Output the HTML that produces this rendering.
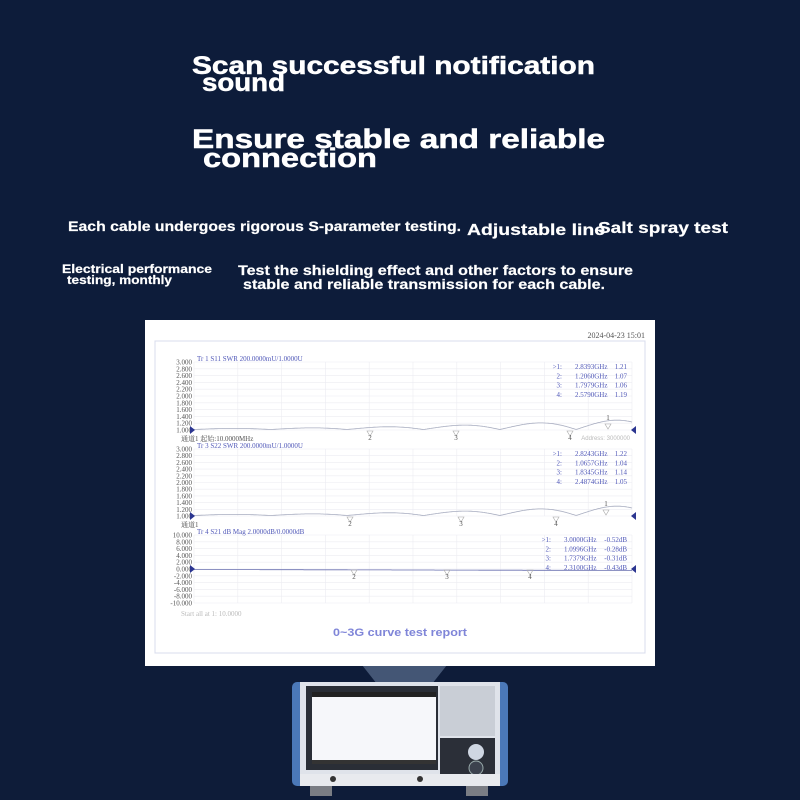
<!DOCTYPE html>
<html><head><meta charset="utf-8"><style>
html,body{margin:0;padding:0;background:#0e1c39;}
svg{display:block}
</style></head><body>
<svg id="s" width="800" height="800" viewBox="0 0 800 800" xmlns="http://www.w3.org/2000/svg" font-family="Liberation Sans, sans-serif">
<rect width="800" height="800" fill="#0e1c39"/>
<rect x="0" y="0" width="800" height="320" fill="#0d1c3a"/>
<g fill="#ffffff" font-weight="bold" stroke="#ffffff" stroke-width="0.5">
<text x="192" y="74" font-size="25" textLength="403" lengthAdjust="spacingAndGlyphs">Scan successful notification</text>
<text x="202" y="91" font-size="25" textLength="83" lengthAdjust="spacingAndGlyphs">sound</text>
<text x="192" y="148" font-size="27" textLength="413" lengthAdjust="spacingAndGlyphs">Ensure stable and reliable</text>
<text x="203" y="167" font-size="27" textLength="174" lengthAdjust="spacingAndGlyphs">connection</text>
</g>
<g fill="#ffffff" font-weight="bold" stroke="#ffffff" stroke-width="0.2">
<text x="68" y="231" font-size="14" textLength="393" lengthAdjust="spacingAndGlyphs">Each cable undergoes rigorous S-parameter testing.</text>
<text x="467" y="235" font-size="16" textLength="138" lengthAdjust="spacingAndGlyphs">Adjustable line</text>
<text x="598" y="233" font-size="16" textLength="130" lengthAdjust="spacingAndGlyphs">Salt spray test</text>
<text x="62" y="273" font-size="12" textLength="150" lengthAdjust="spacingAndGlyphs">Electrical performance</text>
<text x="67" y="284" font-size="12" textLength="105" lengthAdjust="spacingAndGlyphs">testing, monthly</text>
<text x="238" y="275" font-size="14" textLength="395" lengthAdjust="spacingAndGlyphs">Test the shielding effect and other factors to ensure</text>
<text x="243" y="289" font-size="14" textLength="362" lengthAdjust="spacingAndGlyphs">stable and reliable transmission for each cable.</text>
</g>
<polygon points="362,665 447,665 432,684 377,684" fill="#5b6f8f" opacity="0.7"/>
<rect x="145" y="320" width="510" height="346" fill="#ffffff"/>
<rect x="155" y="341" width="490" height="312" fill="none" stroke="#d8dcec" stroke-width="1"/>
<text x="645" y="338" font-size="8" fill="#555" text-anchor="end" font-family="Liberation Serif, serif">2024-04-23 15:01</text>
<g id="plots"></g>
<text x="400" y="636" font-size="11" font-weight="bold" fill="#7f85d8" text-anchor="middle" textLength="134" lengthAdjust="spacingAndGlyphs">0~3G curve test report</text>
<g>
<rect x="292" y="682" width="216" height="104" rx="5" fill="#4b78b8"/>
<rect x="300" y="682" width="200" height="104" fill="#dfe3ea"/>
<rect x="306" y="686" width="132" height="84" fill="#2a2e36"/>
<rect x="312" y="692" width="124" height="72" fill="#f6f7fa"/>
<rect x="312" y="692" width="124" height="5" fill="#222"/>
<rect x="312" y="760" width="124" height="4" fill="#333"/>
<rect x="440" y="686" width="55" height="50" fill="#c9ced6"/>
<rect x="440" y="738" width="55" height="40" fill="#2b2f38"/>
<circle cx="476" cy="752" r="8" fill="#cfd6e2"/>
<circle cx="476" cy="768" r="7" fill="#3c424e" stroke="#9aa" stroke-width="1"/>
<rect x="300" y="774" width="200" height="12" fill="#e8eaee"/>
<circle cx="333" cy="779" r="3" fill="#333"/>
<circle cx="420" cy="779" r="3" fill="#333"/>
<rect x="310" y="786" width="22" height="10" fill="#7a7d84"/>
<rect x="466" y="786" width="22" height="10" fill="#7a7d84"/>
</g>
</svg>
<script>
const g=document.getElementById('plots');const NS='http://www.w3.org/2000/svg';
function el(t,a,txt){const e=document.createElementNS(NS,t);for(const k in a)e.setAttribute(k,a[k]);if(txt)e.textContent=txt;g.appendChild(e);return e;}
const x0=194,x1=632;
const plots=[
 {top:362,bot:430,ref:430,labels:['3.000','2.800','2.600','2.400','2.200','2.000','1.800','1.600','1.400','1.200','1.000'],title:'Tr 1  S11 SWR 200.0000mU/1.0000U',
  mk:[['>1:','2.8393GHz','1.21'],['2:','1.2060GHz','1.07'],['3:','1.7979GHz','1.06'],['4:','2.5790GHz','1.19']],m:[[370,'2'],[456,'3'],[570,'4'],[608,'1']],foot:'通道1  起始:10.0000MHz',lx:562,fx:575},
 {top:449,bot:516,ref:516,labels:['3.000','2.800','2.600','2.400','2.200','2.000','1.800','1.600','1.400','1.200','1.000'],title:'Tr 3  S22 SWR 200.0000mU/1.0000U',
  mk:[['>1:','2.8243GHz','1.22'],['2:','1.0657GHz','1.04'],['3:','1.8345GHz','1.14'],['4:','2.4874GHz','1.05']],m:[[350,'2'],[461,'3'],[556,'4'],[606,'1']],foot:'通道1',lx:562,fx:575},
 {top:535,bot:603,ref:569,labels:['10.000','8.000','6.000','4.000','2.000','0.000','-2.000','-4.000','-6.000','-8.000','-10.000'],title:'Tr 4  S21 dB Mag 2.0000dB/0.0000dB',
  mk:[['>1:','3.0000GHz','-0.52dB'],['2:','1.0996GHz','-0.28dB'],['3:','1.7379GHz','-0.31dB'],['4:','2.3100GHz','-0.43dB']],m:[[354,'2'],[447,'3'],[530,'4']],foot:'Start all at 1: 10.0000',lx:551,fx:564}
];
const F='Liberation Serif, serif';
plots.forEach((p,pi)=>{
 const st=(p.bot-p.top)/10;
 for(let i=0;i<=10;i++){const y=p.top+i*st;el('line',{x1:x0,x2:x1,y1:y,y2:y,stroke:'#ececf2','stroke-width':0.6});
  el('text',{x:192,y:y+2.5,'font-size':7,fill:'#555','text-anchor':'end','font-family':F},p.labels[i]);}
 for(let i=0;i<=10;i++){const x=x0+i*(x1-x0)/10;el('line',{x1:x,x2:x,y1:p.top,y2:p.bot,stroke:'#ececf2','stroke-width':0.6});}
 el('text',{x:197,y:p.top-1,'font-size':7,fill:'#5058b8','font-family':F},p.title);
 p.mk.forEach((r,i)=>{const y=p.top+7+i*9.3;
  el('text',{x:p.lx,y:y,'font-size':7,fill:'#5058b8','text-anchor':'end','font-family':F},r[0]);
  el('text',{x:p.fx,y:y,'font-size':7,fill:'#5058b8','font-family':F},r[1]);
  el('text',{x:627,y:y,'font-size':7,fill:'#5058b8','text-anchor':'end','font-family':F},r[2]);});
 let d='';
 for(let x=x0;x<=x1;x+=1){const t=(x-x0)/(x1-x0);let y;
  if(pi<2){y=p.ref-Math.abs(Math.sin(t*18))*(1+t*t*9)-0.5;}else{y=p.ref+0.5+t*1;}
  d+=(x==x0?'M':'L')+x+','+y.toFixed(1);}
 el('path',{d:d,fill:'none',stroke:pi<2?'#a8adc0':'#6a70b0','stroke-width':0.8});
 el('polygon',{points:`${x0-4},${p.ref-4} ${x0+1},${p.ref} ${x0-4},${p.ref+4}`,fill:'#2b3590'});
 el('polygon',{points:`${x1+4},${p.ref-4} ${x1-1},${p.ref} ${x1+4},${p.ref+4}`,fill:'#2b3590'});
 p.m.forEach(m=>{const up=m[1]=='1';const yy=up?p.ref-10:p.ref+9;
  el('polygon',{points:`${m[0]-3},${up?yy+4:yy-8} ${m[0]+3},${up?yy+4:yy-8} ${m[0]},${up?yy+9:yy-3}`,fill:'none',stroke:'#aaa','stroke-width':0.6});
  el('text',{x:m[0],y:up?yy:yy+1,'font-size':7,fill:'#555','text-anchor':'middle','font-family':F},m[1]);});
 el('text',{x:181,y:p.bot+(pi==2?13:11),'font-size':7,fill:pi==2?'#bbb':'#555','font-family':'Liberation Serif, "Noto Serif CJK SC", serif'},p.foot);
});
el('text',{x:630,y:440,'font-size':6,fill:'#bbb','text-anchor':'end'},'Address: 3000000');
</script>
</body></html>
